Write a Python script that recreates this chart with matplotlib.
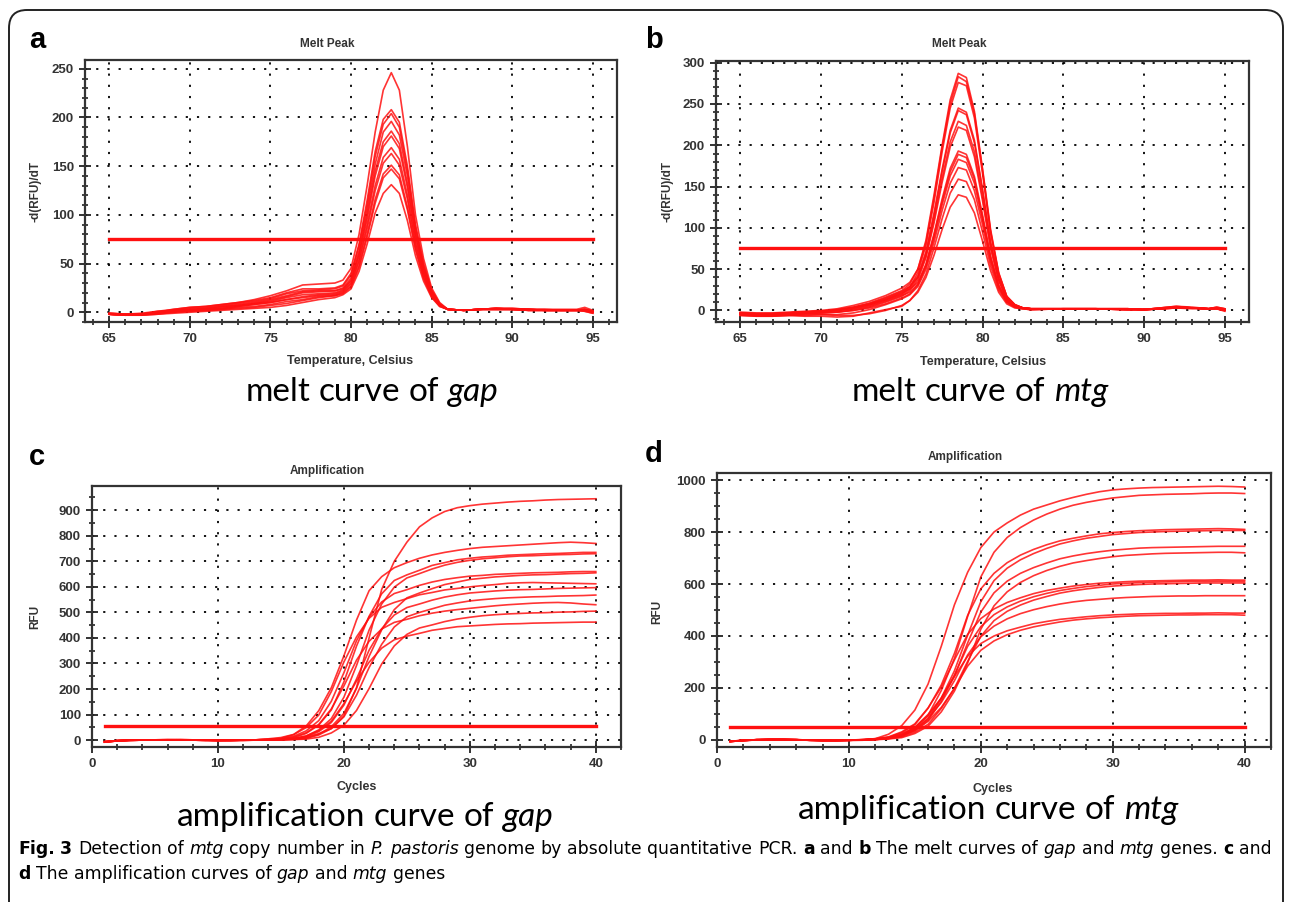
import matplotlib
matplotlib.use("Agg")
import matplotlib.pyplot as plt
from matplotlib.patches import FancyBboxPatch
from matplotlib.transforms import IdentityTransform
from matplotlib.ticker import MultipleLocator

W, H = 1292, 902

# ---- melt peak, gap (panel a) ----
melt_a_temp = [65, 66, 67, 68, 69, 70, 71, 72, 73, 74, 75, 76, 77, 78, 79, 79.5, 80, 80.5, 81, 81.5,
               82, 82.5, 83, 83.5, 84, 84.5, 85, 85.5, 86, 87, 88, 89, 90, 91, 92, 93, 94, 94.5, 95]
melt_a = [
    [-2, -3, -2, 0, 3, 5, 6, 8, 10, 13, 17, 22, 28, 29, 30, 33, 45, 80, 130, 185, 228, 246, 228, 170, 100, 55, 25, 10, 3, 2, 3, 4, 4, 3, 3, 3, 3, 5, 2],
    [-1, -2, -2, 1, 3, 5, 6, 8, 10, 12, 15, 20, 24, 24, 25, 28, 40, 70, 115, 165, 198, 208, 195, 150, 90, 50, 23, 9, 3, 2, 3, 4, 3, 3, 2, 2, 2, 3, 1],
    [-2, -2, -1, 1, 2, 4, 5, 7, 9, 11, 14, 19, 22, 23, 24, 27, 38, 68, 110, 160, 193, 204, 190, 145, 88, 48, 22, 8, 3, 2, 3, 4, 4, 3, 3, 2, 2, 3, 1],
    [-2, -3, -2, 0, 2, 3, 4, 6, 8, 10, 13, 17, 21, 22, 22, 25, 35, 63, 105, 152, 185, 196, 182, 140, 84, 46, 21, 8, 3, 2, 3, 3, 3, 2, 2, 2, 2, 2, 0],
    [-1, -2, -2, 0, 2, 3, 4, 6, 7, 9, 12, 16, 20, 21, 22, 24, 33, 60, 100, 145, 175, 186, 173, 132, 80, 44, 20, 8, 3, 2, 3, 4, 3, 3, 2, 2, 2, 3, 1],
    [-2, -2, -2, -1, 1, 2, 3, 5, 7, 9, 11, 15, 18, 19, 20, 23, 32, 58, 96, 140, 170, 181, 168, 128, 78, 42, 19, 7, 3, 2, 3, 3, 3, 3, 2, 2, 2, 2, 0],
    [-2, -3, -2, -1, 1, 2, 3, 4, 6, 8, 10, 13, 16, 18, 19, 22, 30, 54, 90, 130, 159, 169, 157, 120, 73, 40, 18, 7, 3, 2, 3, 3, 3, 2, 2, 2, 2, 2, 0],
    [-1, -2, -2, 0, 1, 2, 3, 4, 6, 8, 10, 13, 15, 17, 18, 21, 29, 52, 86, 125, 153, 163, 151, 116, 70, 39, 18, 7, 3, 2, 3, 4, 3, 3, 2, 2, 2, 3, 1],
    [-2, -3, -3, -1, 0, 1, 2, 3, 5, 6, 8, 11, 13, 16, 17, 20, 27, 48, 80, 116, 142, 151, 141, 108, 66, 36, 17, 7, 3, 2, 3, 3, 3, 2, 2, 2, 2, 2, 0],
    [-2, -3, -3, -2, 0, 1, 2, 3, 4, 5, 7, 9, 12, 15, 17, 19, 26, 46, 77, 112, 138, 147, 137, 105, 64, 35, 16, 6, 3, 2, 3, 3, 3, 2, 2, 2, 2, 1, -1],
    [-2, -3, -3, -2, -1, 0, 1, 2, 3, 4, 5, 7, 10, 13, 15, 18, 24, 42, 70, 102, 122, 131, 122, 94, 58, 32, 15, 6, 3, 2, 3, 3, 3, 2, 2, 2, 2, 1, -1],
]

# ---- melt peak, mtg (panel b) ----
melt_b_temp = [65, 66, 67, 68, 69, 70, 71, 72, 73, 74, 75, 75.5, 76, 76.5, 77, 77.5, 78, 78.5, 79,
               79.5, 80, 80.5, 81, 81.5, 82, 82.5, 83, 85, 87, 89, 90, 91, 92, 93, 94, 94.5, 95]
melt_b = [
    [-3, -4, -4, -3, -2, -1, 1, 4, 9, 16, 24, 32, 50, 85, 140, 200, 255, 287, 282, 241, 172, 98, 46, 17, 7, 3, 2, 2, 2, 2, 1, 3, 5, 3, 2, 3, 1],
    [-2, -3, -3, -2, -1, 0, 2, 6, 11, 18, 27, 34, 50, 82, 136, 197, 250, 283, 277, 238, 170, 96, 45, 17, 7, 3, 2, 2, 2, 1, 1, 3, 5, 4, 2, 4, 2],
    [-4, -5, -5, -4, -3, -2, 0, 3, 7, 13, 20, 28, 46, 79, 131, 192, 245, 276, 272, 233, 166, 94, 44, 17, 7, 3, 2, 2, 2, 2, 1, 2, 4, 3, 2, 2, 0],
    [-3, -4, -4, -3, -2, -1, 0, 3, 8, 14, 22, 29, 42, 71, 118, 171, 218, 245, 240, 206, 147, 83, 39, 15, 6, 3, 2, 2, 2, 2, 1, 3, 4, 3, 2, 3, 1],
    [-4, -5, -4, -3, -2, -1, 0, 2, 6, 12, 19, 26, 40, 69, 115, 168, 215, 242, 237, 203, 145, 82, 39, 15, 6, 3, 2, 2, 2, 1, 1, 2, 4, 3, 2, 2, 1],
    [-4, -4, -4, -3, -2, -1, 1, 4, 8, 15, 23, 29, 40, 66, 110, 160, 204, 229, 224, 192, 137, 78, 37, 14, 6, 3, 2, 2, 2, 2, 1, 2, 4, 3, 2, 3, 2],
    [-5, -6, -5, -5, -4, -3, -2, 0, 4, 10, 17, 24, 37, 64, 106, 155, 198, 222, 218, 186, 133, 75, 36, 14, 6, 3, 2, 2, 2, 1, 1, 2, 3, 3, 2, 2, 0],
    [-3, -4, -4, -3, -2, -1, 0, 3, 7, 13, 21, 26, 34, 56, 93, 135, 172, 193, 189, 162, 116, 66, 31, 12, 5, 3, 2, 2, 2, 2, 1, 3, 4, 3, 2, 3, 1],
    [-5, -6, -6, -5, -4, -3, -2, 1, 5, 11, 18, 22, 32, 55, 91, 132, 168, 189, 185, 159, 113, 64, 30, 12, 5, 3, 2, 2, 2, 1, 1, 2, 4, 3, 2, 4, 2],
    [-4, -5, -5, -4, -3, -3, -2, 0, 3, 8, 15, 20, 31, 53, 88, 128, 163, 183, 179, 154, 110, 62, 29, 11, 5, 3, 2, 2, 2, 2, 1, 2, 3, 3, 2, 2, 0],
    [-6, -7, -7, -6, -6, -5, -5, -3, 1, 7, 14, 19, 29, 50, 83, 121, 154, 173, 170, 145, 104, 59, 28, 10, 4, 2, 1, 2, 2, 1, 1, 2, 4, 3, 2, 3, 1],
    [-5, -6, -6, -6, -7, -7, -8, -7, -3, 1, 5, 12, 24, 44, 76, 111, 142, 159, 156, 134, 95, 54, 25, 10, 4, 2, 1, 2, 2, 2, 1, 2, 3, 3, 2, 2, -1],
    [-6, -7, -7, -6, -5, -5, -6, -6, -4, 0, 6, 12, 22, 40, 67, 98, 125, 140, 137, 118, 84, 48, 22, 8, 3, 2, 1, 2, 2, 1, 1, 2, 3, 2, 2, 3, 0],
]

# ---- amplification (cycles 1..40) ----
cycles = list(range(1, 41))
amp_gap = [
    [-6, -2, 0, 1, 1, 2, 1, 0, -1, -1, 0, 0, 1, 2, 3, 5, 12, 25, 45, 95, 205, 400, 590, 700, 775, 835, 870, 895, 910, 918, 924, 928, 932, 935, 937, 940, 942, 943, 944, 945],
    [-8, -3, -1, 0, 1, 1, 2, 1, 0, -1, -1, 0, 1, 5, 10, 22, 55, 115, 205, 330, 470, 585, 640, 675, 695, 712, 725, 735, 743, 750, 755, 758, 761, 764, 767, 770, 773, 775, 773, 770],
    [-7, -2, 0, 1, 0, 1, 1, 0, -1, -2, -1, 0, 1, 2, 4, 9, 26, 59, 118, 228, 368, 485, 573, 625, 647, 665, 684, 695, 706, 712, 717, 720, 724, 726, 728, 730, 731, 733, 735, 735],
    [-8, -3, -1, 0, 0, 1, 1, 1, 0, -1, -2, -1, 0, 1, 2, 6, 16, 40, 84, 168, 292, 431, 533, 599, 635, 652, 670, 685, 696, 704, 710, 714, 718, 721, 722, 724, 726, 727, 729, 730],
    [-6, -2, 0, 1, 1, 2, 1, 0, -1, -1, 0, 0, 1, 2, 5, 15, 36, 76, 152, 264, 389, 482, 541, 574, 589, 606, 619, 629, 636, 642, 645, 649, 651, 653, 655, 656, 657, 659, 660, 660],
    [-7, -3, -1, 0, 1, 1, 1, 0, 0, -1, -1, 0, 0, 1, 1, 3, 8, 23, 52, 105, 203, 328, 432, 511, 557, 576, 593, 609, 619, 629, 634, 639, 642, 645, 647, 648, 650, 652, 653, 655],
    [-8, -3, 0, 1, 1, 1, 2, 1, 0, -1, -1, 0, 1, 3, 7, 21, 49, 98, 190, 306, 404, 477, 520, 539, 554, 569, 578, 588, 594, 600, 605, 609, 614, 616, 617, 616, 615, 614, 613, 612],
    [-7, -2, 0, 1, 1, 1, 1, 0, -1, -1, -1, 0, 0, 1, 2, 5, 13, 33, 69, 137, 239, 352, 436, 490, 519, 533, 548, 560, 569, 576, 580, 584, 587, 589, 590, 592, 594, 595, 596, 597],
    [-6, -2, -1, 0, 1, 1, 1, 1, 0, -1, -1, -1, 0, 0, 1, 3, 7, 20, 45, 91, 176, 284, 375, 443, 483, 500, 514, 528, 537, 545, 550, 554, 557, 559, 561, 562, 564, 565, 566, 568],
    [-8, -3, -1, 0, 1, 1, 1, 0, 0, -1, -1, 0, 1, 2, 4, 12, 29, 61, 122, 212, 313, 387, 435, 461, 473, 487, 497, 505, 511, 516, 521, 526, 530, 533, 536, 538, 539, 537, 533, 530],
    [-7, -3, -1, 0, 1, 1, 1, 0, 0, -1, -1, -1, 0, 0, 1, 2, 4, 11, 28, 58, 116, 202, 298, 369, 414, 439, 451, 464, 474, 481, 487, 491, 494, 496, 498, 499, 501, 502, 504, 505],
    [-6, -2, 0, 1, 1, 1, 1, 0, -1, -1, 0, 0, 0, 1, 2, 6, 16, 37, 74, 143, 231, 305, 360, 393, 407, 418, 430, 437, 444, 447, 450, 453, 455, 456, 458, 459, 460, 461, 462, 462],
]
amp_mtg = [
    [-6, -2, 1, 2, 2, 1, -1, -2, -2, -1, 1, 5, 22, 55, 115, 215, 360, 520, 645, 740, 800, 835, 865, 888, 904, 920, 933, 945, 955, 962, 966, 969, 971, 972, 973, 974, 975, 976, 975, 973],
    [-5, -1, 1, 2, 1, 1, -1, -2, -1, -1, 0, 3, 8, 19, 48, 95, 190, 314, 475, 627, 722, 779, 817, 846, 869, 888, 903, 914, 923, 931, 936, 941, 943, 945, 946, 947, 949, 950, 950, 948],
    [-6, -2, 0, 2, 2, 1, 0, -2, -2, -1, 0, 4, 10, 28, 59, 122, 211, 333, 479, 581, 641, 682, 711, 733, 751, 766, 776, 785, 793, 798, 802, 805, 807, 809, 810, 811, 812, 813, 812, 810],
    [-5, -2, 1, 1, 2, 1, -1, -1, -2, -1, 0, 2, 6, 16, 40, 81, 161, 266, 403, 532, 613, 661, 693, 717, 737, 754, 766, 776, 783, 790, 794, 798, 800, 802, 803, 804, 805, 806, 806, 806],
    [-6, -1, 1, 2, 1, 0, -1, -2, -2, -1, 0, 2, 6, 15, 37, 75, 149, 246, 373, 492, 566, 611, 641, 663, 681, 697, 708, 717, 724, 730, 734, 738, 740, 741, 742, 743, 744, 745, 745, 745],
    [-5, -2, 0, 1, 2, 1, 0, -1, -2, -2, -1, 1, 4, 9, 25, 53, 108, 188, 296, 426, 516, 570, 606, 632, 652, 668, 681, 690, 698, 705, 710, 713, 716, 718, 719, 720, 721, 722, 722, 720],
    [-6, -2, 1, 2, 1, 1, -1, -2, -2, -1, 2, 5, 12, 31, 62, 123, 203, 308, 406, 467, 504, 529, 547, 563, 575, 584, 592, 598, 603, 606, 609, 611, 612, 613, 614, 615, 615, 616, 615, 615],
    [-5, -1, 1, 2, 2, 0, -1, -2, -1, -1, 0, 3, 7, 21, 45, 92, 159, 250, 360, 436, 482, 512, 534, 551, 564, 575, 583, 590, 595, 600, 603, 605, 607, 608, 609, 610, 610, 611, 610, 610],
    [-6, -2, 0, 1, 2, 1, -1, -2, -2, -1, 0, 2, 5, 12, 30, 60, 121, 199, 302, 399, 459, 495, 519, 538, 552, 565, 574, 581, 587, 592, 595, 598, 600, 601, 602, 603, 604, 604, 604, 604],
    [-5, -2, 1, 2, 1, 1, 0, -1, -2, -1, 0, 3, 7, 19, 41, 83, 144, 228, 327, 397, 438, 466, 486, 501, 513, 523, 531, 537, 541, 545, 548, 550, 552, 553, 554, 554, 555, 555, 555, 555],
    [-6, -2, 0, 2, 2, 1, -1, -2, -2, -1, 1, 4, 10, 24, 49, 98, 161, 244, 322, 371, 400, 420, 434, 447, 456, 464, 469, 474, 478, 481, 483, 485, 486, 487, 487, 488, 488, 489, 488, 488],
    [-5, -2, 1, 1, 2, 1, 0, -2, -2, -1, 0, 2, 6, 17, 35, 72, 125, 198, 284, 345, 381, 405, 422, 435, 445, 454, 461, 466, 470, 473, 476, 478, 479, 480, 481, 481, 482, 482, 482, 480],
]

melt_threshold = 75
amp_threshold_gap = 55
amp_threshold_mtg = 50

plt.rcParams["font.family"] = ["Liberation Sans", "DejaVu Sans"]
plt.rcParams["font.weight"] = "bold"

RED = "#ff1010"
TXT = "#333333"
fig = plt.figure(figsize=(W / 100, H / 100), dpi=100)
fig.patches.append(FancyBboxPatch((9, -30), 1274, 922, boxstyle="round,pad=0,rounding_size=18",
                                  transform=IdentityTransform(), fill=False, lw=1.4, ec="#222222"))


def ax_at(l, t, r, b):
    return fig.add_axes([l / W, 1 - b / H, (r - l) / W, (b - t) / H])


def ftext(x, y, s, **kw):
    return fig.text(x / W, 1 - y / H, s, **kw)


def style_ax(ax, xlim, ylim, xmaj, xmin, ymaj, ymin):
    ax.set_xlim(*xlim)
    ax.set_ylim(*ylim)
    ax.xaxis.set_major_locator(MultipleLocator(xmaj))
    ax.xaxis.set_minor_locator(MultipleLocator(xmin))
    ax.yaxis.set_major_locator(MultipleLocator(ymaj))
    ax.yaxis.set_minor_locator(MultipleLocator(ymin))
    ax.grid(True, which="major", color="k", linestyle=(0, (1.2, 5)), linewidth=1.3)
    ax.set_axisbelow(True)
    for sp in ax.spines.values():
        sp.set_color("#333333")
        sp.set_linewidth(1.6)
    ax.tick_params(which="major", direction="inout", length=8, width=1.3, color="#222222", pad=4,
                   labelsize=9.5, labelcolor=TXT)
    ax.tick_params(which="minor", direction="inout", length=5, width=1.2, color="#222222")


# panel a
ax = ax_at(85, 60, 617, 322)
for ys in melt_a:
    ax.plot(melt_a_temp, ys, color=RED, lw=1.2, alpha=0.85)
ax.plot([65, 95], [melt_threshold] * 2, color=RED, lw=2.4)
style_ax(ax, (63.5, 96.5), (-10, 259), 5, 1, 50, 10)

# panel b
ax = ax_at(716, 61, 1249, 322)
for ys in melt_b:
    ax.plot(melt_b_temp, ys, color=RED, lw=1.2, alpha=0.85)
ax.plot([65, 95], [melt_threshold] * 2, color=RED, lw=2.4)
style_ax(ax, (63.5, 96.5), (-14, 302), 5, 1, 50, 10)

# panel c
ax = ax_at(92, 486, 621, 747)
for ys in amp_gap:
    ax.plot(cycles, ys, color=RED, lw=1.2, alpha=0.85)
ax.plot([1, 40], [amp_threshold_gap] * 2, color=RED, lw=2.4)
style_ax(ax, (0, 42), (-27, 995), 10, 2, 100, 50)

# panel d
ax = ax_at(717, 473, 1271, 747)
for ys in amp_mtg:
    ax.plot(cycles, ys, color=RED, lw=1.2, alpha=0.85)
ax.plot([1, 40], [amp_threshold_mtg] * 2, color=RED, lw=2.4)
style_ax(ax, (0, 42), (-27, 1027), 10, 2, 200, 50)

small = dict(fontweight="bold", color=TXT, ha="center", va="center")
for x, y, s in [(327, 44, "Melt Peak"), (959, 44, "Melt Peak"),
                (327, 471, "Amplification"), (965, 457, "Amplification")]:
    ftext(x, y, s, fontsize=8.5, **small)
for x, y, s in [(350, 361, "Temperature, Celsius"), (983, 362, "Temperature, Celsius"),
                (357, 787, "Cycles"), (993, 789, "Cycles")]:
    ftext(x, y, s, fontsize=9, **small)
for x, y, s in [(36, 192, "-d(RFU)/dT"), (668, 192, "-d(RFU)/dT"), (35, 617, "RFU"), (657, 612, "RFU")]:
    ftext(x, y, s, fontsize=8.5, rotation=90, **small)

for x, y, s in [(37, 40, "a"), (654, 40, "b"), (37, 457, "c"), (654, 454, "d")]:
    ftext(x, y, s, fontsize=21, fontweight="bold", color="k", ha="center", va="center")

renderer = fig.canvas.get_renderer()


def rich(x, y, parts, size, family, center=False):
    fp = dict(fontsize=size, family=family, color="k", va="center", ha="left", fontweight="normal")
    probe = ftext(0, 0, "a a", **fp)
    w2 = probe.get_window_extent(renderer).width
    probe.set_text("aa")
    space = w2 - probe.get_window_extent(renderer).width
    probe.remove()
    items, cx = [], x
    for text, st in parts:
        kw = dict(fp)
        if st == "b":
            kw["fontweight"] = "bold"
        if st == "i":
            kw["fontstyle"] = "italic"
        for k, word in enumerate(text.split(" ")):
            if k > 0:
                cx += space
            if word:
                t = ftext(cx, y, word, **kw)
                cx += t.get_window_extent(renderer).width
                items.append(t)
    if center:
        shift = (cx - x) / 2 / W
        for t in items:
            px_, py_ = t.get_position()
            t.set_position((px_ - shift, py_))


cap = ["Lato", "DejaVu Sans"]
rich(372, 392, [("melt curve of ", "n"), ("gap", "i")], 24, cap, center=True)
rich(980, 392, [("melt curve of ", "n"), ("mtg", "i")], 24, cap, center=True)
rich(365, 817, [("amplification curve of ", "n"), ("gap", "i")], 24, cap, center=True)
rich(988, 810, [("amplification curve of ", "n"), ("mtg", "i")], 24, cap, center=True)

fc = ["DejaVu Sans"]
rich(18, 849, [("Fig. 3", "b"), (" Detection of ", "n"), ("mtg", "i"), (" copy number in ", "n"),
               ("P. pastoris", "i"), (" genome by absolute quantitative PCR. ", "n"), ("a", "b"),
               (" and ", "n"), ("b", "b"), (" The melt curves of ", "n"), ("gap", "i"), (" and ", "n"),
               ("mtg", "i"), (" genes. ", "n"), ("c", "b"), (" and", "n")], 12.4, fc)
rich(18, 874, [("d", "b"), (" The amplification curves of ", "n"), ("gap", "i"), (" and ", "n"),
               ("mtg", "i"), (" genes", "n")], 12.4, fc)

fig.savefig("out.png", dpi=100)
